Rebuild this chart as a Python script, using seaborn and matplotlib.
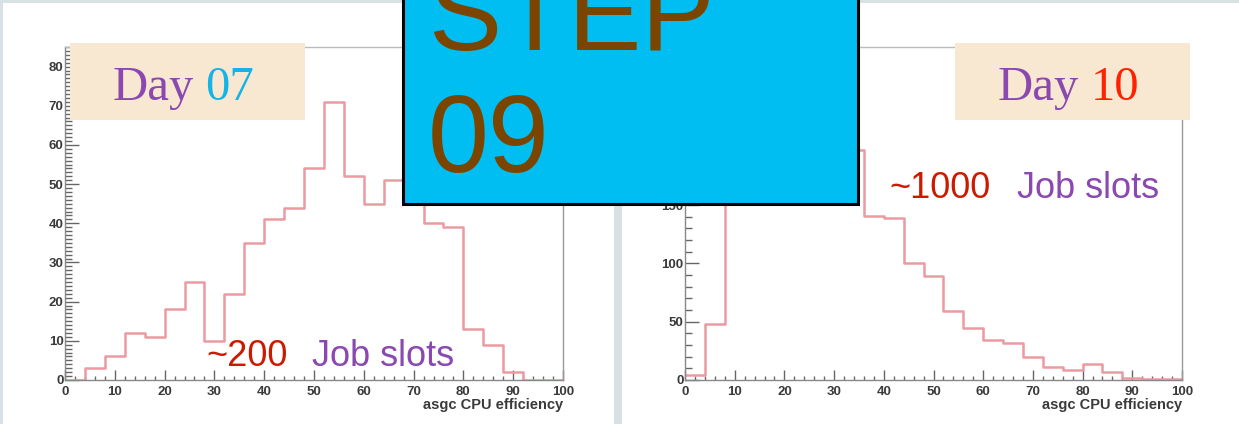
import numpy as np
import pandas as pd
import seaborn as sns
import matplotlib.pyplot as plt
from matplotlib.patches import Rectangle
from matplotlib.ticker import MultipleLocator

# bin centres (CPU efficiency, %, 4-wide bins) and counts
centers = np.arange(2, 100, 4)
day07_counts = [0, 3, 6, 12, 11, 18, 25, 10, 22, 35, 41, 44, 54,
                71, 52, 45, 51, 56, 40, 39, 13, 9, 2, 0, 0]
day10_counts = [4, 48, 225, 240, 152, 232, 258, 246, 197, 141, 139, 100, 89,
                59, 45, 34, 32, 20, 11, 9, 14, 7, 2, 1, 1]

W, H = 1239, 424

sns.set_theme(style="white")
plt.rcParams['font.family'] = ['Liberation Sans', 'DejaVu Sans']

fig = plt.figure(figsize=(W / 100, H / 100), dpi=100)
fig.patch.set_facecolor('#d8e2e4')


def fx(px):
    return px / W


def fy(py):
    return 1 - py / H


def frect(x0, y0, x1, y1, **kw):
    r = Rectangle((fx(x0), fy(y1)), fx(x1) - fx(x0), fy(y0) - fy(y1),
                  transform=fig.transFigure, **kw)
    fig.add_artist(r)
    return r


# white slide panels
frect(3, 3, 614, 430, facecolor='white', edgecolor='none', zorder=-2)
frect(622, 3, 1245, 430, facecolor='white', edgecolor='none', zorder=-2)

line_col = '#eb9aa1'


def hist_panel(x0, x1, counts, ymax, major, minor):
    ax = fig.add_axes([fx(x0), fy(380), fx(x1) - fx(x0), fy(47) - fy(380)])
    df = pd.DataFrame({'eff': centers, 'n': counts})
    sns.histplot(data=df, x='eff', weights='n', binwidth=4, binrange=(0, 100),
                 element='step', fill=False, color=line_col, linewidth=1.8, ax=ax)
    ax.set_xlim(0, 100)
    ax.set_ylim(0, ymax)
    ax.set_facecolor('none')
    ax.xaxis.set_major_locator(MultipleLocator(10))
    ax.xaxis.set_minor_locator(MultipleLocator(2))
    ax.yaxis.set_major_locator(MultipleLocator(major))
    ax.yaxis.set_minor_locator(MultipleLocator(minor))
    ax.tick_params(which='both', direction='in', colors='#666666',
                   labelcolor='#3a3a3a', labelsize=9.5, width=1)
    ax.tick_params(axis='y', which='major', length=10, pad=1)
    ax.tick_params(axis='y', which='minor', length=5)
    ax.tick_params(axis='x', which='major', length=7, pad=4)
    ax.tick_params(axis='x', which='minor', length=3)
    ax.tick_params(left=True, bottom=True, which='both')
    for lab in ax.get_xticklabels() + ax.get_yticklabels():
        lab.set_fontweight('bold')
    for side, c in [('left', '#888888'), ('bottom', '#888888'),
                    ('top', '#bbbbbb'), ('right', '#999999')]:
        ax.spines[side].set_visible(True)
        ax.spines[side].set_color(c)
        ax.spines[side].set_linewidth(1)
    ax.set_ylabel('')
    ax.set_xlabel('asgc CPU efficiency', loc='right', fontsize=10.5,
                  fontweight='bold', color='#3a3a3a', labelpad=0)
    return ax


hist_panel(65, 563, day07_counts, 85, 10, 1)
hist_panel(685, 1182, day10_counts, 285.5, 50, 10)

purple = '#8a48b0'
serif = ['Liberation Serif', 'DejaVu Serif']

# Day labels
frect(70, 43, 305, 120, facecolor='#f8e8d2', edgecolor='none', zorder=5)
fig.text(fx(113), fy(100), 'Day', fontsize=35, family=serif, color=purple,
         va='baseline', zorder=6)
fig.text(fx(205), fy(100), '07', fontsize=35, family=serif, color='#14b4e6',
         va='baseline', zorder=6)

frect(955, 43, 1190, 120, facecolor='#f8e8d2', edgecolor='none', zorder=5)
fig.text(fx(998), fy(100), 'Day', fontsize=35, family=serif, color=purple,
         va='baseline', zorder=6)
fig.text(fx(1091), fy(100), '10', fontsize=35, family=serif, color='#ff2200',
         va='baseline', zorder=6)

# job slot annotations
fig.text(fx(206), fy(366), '~200', fontsize=26, color='#cc1a00',
         va='baseline', zorder=6)
fig.text(fx(312), fy(366), 'Job slots', fontsize=26, color=purple,
         va='baseline', zorder=6)
fig.text(fx(889), fy(198), '~1000', fontsize=26, color='#cc1a00',
         va='baseline', zorder=6)
fig.text(fx(1017), fy(198), 'Job slots', fontsize=26, color=purple,
         va='baseline', zorder=6)

# STEP 09 box (the title runs off the top of the slide, as in the original)
frect(403, -10, 858, 204, facecolor='#00bdf2', edgecolor='black',
      linewidth=2.2, zorder=8)
fig.text(fx(428), fy(50), 'STEP', fontsize=79, color='#7b4500',
         va='baseline', zorder=9)
fig.text(fx(428), fy(172), '09', fontsize=79, color='#7b4500',
         va='baseline', zorder=9)

fig.savefig('out.png', dpi=100, facecolor=fig.get_facecolor())
